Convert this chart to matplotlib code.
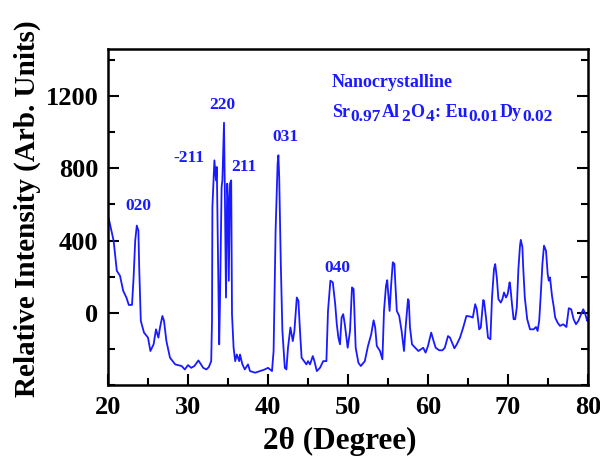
import matplotlib.pyplot as plt
from matplotlib.ticker import MultipleLocator

plt.rcParams['font.family'] = 'Liberation Serif'
plt.rcParams['font.weight'] = 'bold'

# XRD pattern (2theta in degrees, intensity in arb. units)
two_theta = [
    20.0, 20.1, 20.7, 21.1, 21.5, 21.9, 22.3, 22.6, 23.0, 23.2, 23.4, 23.6, 23.8, 23.9,
    24.1, 24.5, 25.0, 25.3, 25.7, 26.0, 26.3, 26.5, 26.8, 27.0, 27.3, 27.75, 28.4,
    29.2, 29.6, 30.0, 30.4, 30.8, 31.3, 31.9, 32.3, 32.6, 32.9, 33.0, 33.05, 33.3,
    33.5, 33.6, 33.8, 33.9, 34.0, 34.2, 34.3, 34.5, 34.6, 34.75, 34.9, 35.0, 35.1,
    35.25, 35.4, 35.5, 35.7, 35.9, 36.1, 36.4, 36.5, 36.8, 37.1, 37.5, 37.75, 38.4,
    39.0, 39.6, 40.0, 40.5, 40.7, 40.95, 41.2, 41.3, 41.4, 41.6, 41.8, 42.1, 42.3,
    42.5, 42.8, 43.1, 43.3, 43.6, 43.8, 44.0, 44.2, 44.5, 44.8, 45.0, 45.25, 45.6,
    45.8, 46.1, 46.5, 46.9, 47.3, 47.5, 47.8, 48.1, 48.4, 48.6, 48.8, 49.0, 49.2,
    49.4, 49.6, 49.96, 50.25, 50.5, 50.7, 50.96, 51.3, 51.6, 52.1, 52.5, 52.9, 53.2,
    53.4, 53.6, 54.0, 54.3, 54.5, 54.75, 54.9, 55.2, 55.4, 55.6, 55.8, 55.9, 56.1,
    56.4, 56.7, 57.0, 57.2, 57.5, 57.6, 57.75, 58.0, 58.4, 58.8, 59.1, 59.4, 59.7,
    60.0, 60.4, 60.7, 60.96, 61.4, 61.8, 62.1, 62.5, 62.75, 63.3, 63.6, 64.0, 64.4,
    64.8, 65.25, 65.6, 65.9, 66.1, 66.4, 66.6, 66.9, 67.0, 67.25, 67.5, 67.8, 68.0,
    68.25, 68.4, 68.6, 68.8, 69.1, 69.3, 69.5, 69.75, 69.96, 70.2, 70.3, 70.5, 70.7,
    70.9, 71.1, 71.3, 71.5, 71.6, 71.8, 71.9, 72.1, 72.4, 72.75, 73.2, 73.5, 73.7,
    73.9, 74.1, 74.3, 74.5, 74.75, 74.96, 75.1, 75.25, 75.5, 75.7, 75.9, 76.2, 76.5,
    76.9, 77.3, 77.6, 77.9, 78.2, 78.5, 78.8, 79.1, 79.4, 79.6, 79.9, 80.0,
]
intensity = [
    530, 520, 400, 233, 205, 122, 85, 44, 44, 196, 400, 483, 455, 252,
    -44, -109, -137, -211, -174, -91, -137, -81, -17, -44, -156, -248, -285,
    -294, -313, -289, -304, -294, -263, -304, -313, -300, -267, -44, 585, 844,
    733, 807, 178, -174, 67, 696, 733, 1052, 696, 85, 715, 641, 178,
    715, 733, -7, -193, -267, -230, -267, -230, -285, -313, -285, -322, -331,
    -322, -313, -304, -322, -211, 456, 826, 872, 752, 271, -100, -304, -313,
    -193, -81, -156, -100, 85, 67, -100, -248, -267, -285, -267, -285, -239,
    -267, -322, -304, -267, -267, 11, 178, 169, 48, -63, -137, -174, -26,
    -7, -63, -193, -100, 141, 132, -193, -276, -294, -267, -183, -119, -41,
    -81, -183, -211, -257, 11, 150, 181, 11, 159, 280, 271, 178, 11,
    -17, -100, -211, -81, 76, 67, -81, -174, -193, -211, -202, -193, -220,
    -183, -109, -156, -193, -207, -207, -193, -128, -137, -196, -174, -137, -81,
    -17, -20, -26, 48, 20, -91, -81, 71, 67, -26, -137, -146, 85,
    243, 270, 196, 76, 57, 76, 113, 85, 104, 169, 141, 48, -35,
    -35, 30, 243, 372, 404, 363, 252, 85, -35, -91, -91, -78, -100,
    -44, 104, 270, 372, 344, 215, 178, 196, 94, 39, -26, -54, -72,
    -63, -78, 26, 20, -35, -63, -44, -11, 20, 2, -44, -30,
]

# Miller indices of the labelled reflections and where their labels sit
hkl_labels = ['020', '-211', '220', '211', '031', '040']
hkl_x = [23.75, 30.1, 34.25, 36.95, 42.2, 48.7]
hkl_y = [590, 855, 1150, 805, 975, 250]

# composition, as (text, is_subscript) pieces
formula = [('Sr', False), ('0.97', True), ('Al', False), ('2', True), ('O', False),
           ('4', True), (': Eu', False), ('0.01', True), ('Dy', False), ('0.02', True)]

blue = '#1a1aff'

fig = plt.figure(figsize=(6, 4.58), dpi=100)
ax = fig.add_axes([0.18, 0.159, 0.8, 0.734])
ax.plot(two_theta, intensity, color=blue, lw=1.3)

for lab, x, y in zip(hkl_labels, hkl_x, hkl_y):
    ax.text(x, y, lab, color=blue, fontsize=12.5, ha='center', va='center')

ax.text(48.0, 1275, 'Nanocrystalline', color=blue, fontsize=13, va='center')

# chain the formula pieces, dropping the subscripts below the baseline
prev = ax.text(48.0, 1060, formula[0][0], color=blue, fontsize=13, va='bottom')
prev_sub = False
for piece, sub in formula[1:]:
    dy = 0
    if sub and not prev_sub:
        dy = -3
    elif prev_sub and not sub:
        dy = 3
    prev = ax.annotate(piece, xy=(1, 0), xycoords=prev, xytext=(0.6, dy),
                       textcoords='offset points', color=blue,
                       fontsize=12.5 if sub else 13, va='bottom', ha='left')
    prev_sub = sub

ax.set_xlim(20, 80)
ax.set_ylim(-400, 1460)
ax.set_yticks([0, 400, 800, 1200])
ax.xaxis.set_major_locator(MultipleLocator(10))
ax.xaxis.set_minor_locator(MultipleLocator(5))
ax.yaxis.set_minor_locator(MultipleLocator(200))
ax.tick_params(which='both', direction='in', top=False, right=True,
               width=1.5, labelsize=19)
ax.tick_params(which='major', length=8)
ax.tick_params(which='minor', length=5)
ax.tick_params(axis='x', pad=8)
ax.tick_params(axis='y', pad=7)
for s in ax.spines.values():
    s.set_linewidth(1.8)

ax.set_xlabel('2θ (Degree)', fontsize=22.5, fontweight='bold')
ax.set_ylabel('Relative Intensity (Arb. Units)', fontsize=21, fontweight='bold')
ax.xaxis.set_label_coords(0.483, -0.125)
ax.yaxis.set_label_coords(-0.14, 0.525)

fig.savefig('out.png', dpi=100)
